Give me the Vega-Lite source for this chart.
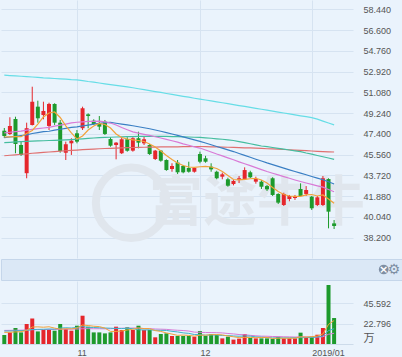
{
  "$schema": "https://vega.github.io/schema/vega-lite/v6.json",
  "background": "#eaf3fc",
  "padding": 0,
  "spacing": 0,
  "config": {
    "view": {"stroke": null},
    "axis": {"labelFont": "Liberation Sans", "labelFontSize": 9, "labelColor": "#555555", "gridColor": "#d6e3f1", "gridWidth": 1, "domain": false, "ticks": false, "labelOverlap": false},
    "axisY": {"labelOverlap": false}
  },
  "datasets": {
    "k": [
      {"i":0,"o":47.69,"h":47.93,"l":47.04,"c":47.22,"v":10.1,"m5":47.13,"m10":47.50,"m20":47.08,"m60":46.64,"m120":45.47,"m250":52.61,"vm5":13.0,"vm10":14.5,"vm20":15.2},
      {"i":1,"o":47.40,"h":48.88,"l":47.31,"c":48.11,"v":13.0,"m5":47.15,"m10":47.55,"m20":47.13,"m60":46.66,"m120":45.51,"m250":52.58,"vm5":13.2,"vm10":14.6,"vm20":15.3},
      {"i":2,"o":48.73,"h":48.93,"l":45.69,"c":46.51,"v":17.9,"m5":47.16,"m10":47.61,"m20":47.19,"m60":46.69,"m120":45.55,"m250":52.55,"vm5":13.5,"vm10":14.8,"vm20":15.4},
      {"i":3,"o":46.42,"h":46.72,"l":45.45,"c":45.54,"v":13.0,"m5":47.16,"m10":47.66,"m20":47.26,"m60":46.72,"m120":45.60,"m250":52.52,"vm5":13.8,"vm10":15.0,"vm20":15.5},
      {"i":4,"o":43.92,"h":48.40,"l":43.47,"c":47.91,"v":22.4,"m5":47.44,"m10":47.74,"m20":47.32,"m60":46.74,"m120":45.64,"m250":52.48,"vm5":15.3,"vm10":15.3,"vm20":15.7},
      {"i":5,"o":48.20,"h":51.59,"l":48.15,"c":50.26,"v":28.7,"m5":47.71,"m10":47.81,"m20":47.44,"m60":46.77,"m120":45.69,"m250":52.45,"vm5":19.0,"vm10":16.2,"vm20":16.0},
      {"i":6,"o":49.82,"h":50.35,"l":48.40,"c":48.79,"v":14.1,"m5":48.28,"m10":47.87,"m20":47.52,"m60":46.79,"m120":45.73,"m250":52.42,"vm5":19.2,"vm10":16.4,"vm20":16.1},
      {"i":7,"o":49.08,"h":50.26,"l":48.70,"c":49.44,"v":15.7,"m5":48.91,"m10":47.93,"m20":47.60,"m60":46.80,"m120":45.77,"m250":52.38,"vm5":18.8,"vm10":16.5,"vm20":16.2},
      {"i":8,"o":48.11,"h":50.17,"l":47.75,"c":50.06,"v":15.7,"m5":49.26,"m10":47.99,"m20":47.64,"m60":46.82,"m120":45.80,"m250":52.36,"vm5":19.3,"vm10":16.8,"vm20":16.3},
      {"i":9,"o":50.06,"h":50.12,"l":48.20,"c":48.40,"v":14.9,"m5":49.35,"m10":48.09,"m20":47.74,"m60":46.84,"m120":45.84,"m250":52.32,"vm5":17.8,"vm10":16.6,"vm20":16.4},
      {"i":10,"o":48.40,"h":48.64,"l":45.74,"c":45.89,"v":22.4,"m5":48.86,"m10":48.19,"m20":47.82,"m60":46.85,"m120":45.87,"m250":52.29,"vm5":16.6,"vm10":17.8,"vm20":16.6},
      {"i":11,"o":45.74,"h":46.72,"l":45.09,"c":46.48,"v":16.8,"m5":48.11,"m10":48.28,"m20":47.90,"m60":46.87,"m120":45.91,"m250":52.26,"vm5":17.1,"vm10":18.2,"vm20":16.7},
      {"i":12,"o":46.57,"h":47.02,"l":45.54,"c":46.80,"v":14.9,"m5":47.49,"m10":48.38,"m20":47.98,"m60":46.90,"m120":45.94,"m250":52.22,"vm5":16.9,"vm10":17.9,"vm20":16.7},
      {"i":13,"o":47.46,"h":47.75,"l":46.57,"c":46.72,"v":20.5,"m5":46.95,"m10":48.44,"m20":48.03,"m60":46.94,"m120":45.97,"m250":52.20,"vm5":17.9,"vm10":18.6,"vm20":16.8},
      {"i":14,"o":47.91,"h":49.82,"l":47.75,"c":49.68,"v":31.7,"m5":47.22,"m10":48.48,"m20":48.11,"m60":46.97,"m120":46.01,"m250":52.13,"vm5":21.3,"vm10":19.5,"vm20":17.1},
      {"i":15,"o":49.14,"h":49.23,"l":47.91,"c":48.99,"v":19.4,"m5":47.75,"m10":48.51,"m20":48.19,"m60":47.01,"m120":46.03,"m250":52.05,"vm5":20.7,"vm10":18.6,"vm20":17.2},
      {"i":16,"o":48.58,"h":48.70,"l":48.20,"c":48.28,"v":13.0,"m5":48.11,"m10":48.52,"m20":48.27,"m60":47.04,"m120":46.06,"m250":51.99,"vm5":19.9,"vm10":18.5,"vm20":17.1},
      {"i":17,"o":48.35,"h":48.99,"l":47.75,"c":48.05,"v":13.0,"m5":48.33,"m10":48.54,"m20":48.35,"m60":47.08,"m120":46.09,"m250":51.92,"vm5":19.5,"vm10":18.2,"vm20":17.1},
      {"i":18,"o":48.49,"h":48.64,"l":47.31,"c":47.40,"v":11.9,"m5":48.24,"m10":48.48,"m20":48.40,"m60":47.10,"m120":46.11,"m250":51.85,"vm5":17.8,"vm10":17.9,"vm20":17.0},
      {"i":19,"o":46.95,"h":47.11,"l":46.27,"c":46.36,"v":13.0,"m5":47.93,"m10":48.37,"m20":48.42,"m60":47.11,"m120":46.13,"m250":51.78,"vm5":14.1,"vm10":17.7,"vm20":17.1},
      {"i":20,"o":46.42,"h":46.68,"l":45.15,"c":46.63,"v":19.4,"m5":47.40,"m10":48.19,"m20":48.35,"m60":47.13,"m120":46.15,"m250":51.71,"vm5":14.1,"vm10":17.4,"vm20":17.6},
      {"i":21,"o":45.69,"h":47.11,"l":45.62,"c":46.93,"v":15.7,"m5":47.09,"m10":47.97,"m20":48.28,"m60":47.14,"m120":46.17,"m250":51.64,"vm5":14.6,"vm10":17.3,"vm20":17.7},
      {"i":22,"o":46.93,"h":47.11,"l":45.83,"c":45.92,"v":18.7,"m5":46.95,"m10":47.77,"m20":48.21,"m60":47.16,"m120":46.18,"m250":51.57,"vm5":15.7,"vm10":17.6,"vm20":17.7},
      {"i":23,"o":45.92,"h":47.11,"l":45.83,"c":47.02,"v":15.7,"m5":46.88,"m10":47.58,"m20":48.13,"m60":47.17,"m120":46.20,"m250":51.50,"vm5":16.5,"vm10":17.2,"vm20":17.9},
      {"i":24,"o":47.02,"h":47.60,"l":46.13,"c":46.63,"v":20.5,"m5":46.82,"m10":47.48,"m20":48.04,"m60":47.18,"m120":46.21,"m250":51.41,"vm5":18.0,"vm10":16.0,"vm20":17.8},
      {"i":25,"o":46.57,"h":47.16,"l":46.42,"c":46.93,"v":15.7,"m5":46.73,"m10":47.37,"m20":47.95,"m60":47.18,"m120":46.22,"m250":51.33,"vm5":17.3,"vm10":15.7,"vm20":17.1},
      {"i":26,"o":46.42,"h":46.51,"l":45.54,"c":45.62,"v":15.7,"m5":46.51,"m10":47.27,"m20":47.86,"m60":47.18,"m120":46.23,"m250":51.25,"vm5":17.3,"vm10":15.9,"vm20":17.2},
      {"i":27,"o":45.18,"h":45.98,"l":45.09,"c":45.92,"v":7.5,"m5":46.25,"m10":47.15,"m20":47.75,"m60":47.18,"m120":46.24,"m250":51.16,"vm5":15.0,"vm10":15.4,"vm20":16.8},
      {"i":28,"o":45.92,"h":45.98,"l":44.94,"c":45.03,"v":11.2,"m5":45.89,"m10":47.04,"m20":47.64,"m60":47.18,"m120":46.25,"m250":51.08,"vm5":14.1,"vm10":15.3,"vm20":16.6},
      {"i":29,"o":45.09,"h":45.15,"l":44.14,"c":44.20,"v":11.9,"m5":45.49,"m10":46.92,"m20":47.52,"m60":47.18,"m120":46.25,"m250":50.99,"vm5":12.4,"vm10":15.2,"vm20":16.4},
      {"i":30,"o":44.29,"h":44.80,"l":44.05,"c":44.56,"v":9.0,"m5":45.14,"m10":46.80,"m20":47.40,"m60":47.17,"m120":46.25,"m250":50.91,"vm5":11.1,"vm10":14.2,"vm20":15.8},
      {"i":31,"o":44.86,"h":45.09,"l":43.85,"c":44.00,"v":9.0,"m5":44.83,"m10":46.67,"m20":47.27,"m60":47.16,"m120":46.26,"m250":50.82,"vm5":9.7,"vm10":13.5,"vm20":15.4},
      {"i":32,"o":44.56,"h":44.65,"l":43.91,"c":44.00,"v":9.0,"m5":44.60,"m10":46.52,"m20":47.14,"m60":47.15,"m120":46.27,"m250":50.74,"vm5":10.0,"vm10":12.5,"vm20":15.1},
      {"i":33,"o":44.38,"h":44.94,"l":43.97,"c":44.05,"v":9.0,"m5":44.47,"m10":46.40,"m20":47.01,"m60":47.13,"m120":46.28,"m250":50.66,"vm5":9.6,"vm10":11.9,"vm20":14.5},
      {"i":34,"o":44.05,"h":44.47,"l":43.97,"c":44.38,"v":8.2,"m5":44.44,"m10":46.26,"m20":46.87,"m60":47.11,"m120":46.29,"m250":50.57,"vm5":8.8,"vm10":10.6,"vm20":13.3},
      {"i":35,"o":45.62,"h":45.83,"l":44.80,"c":44.94,"v":14.5,"m5":44.49,"m10":46.15,"m20":46.74,"m60":47.10,"m120":46.29,"m250":50.49,"vm5":9.9,"vm10":10.5,"vm20":13.1},
      {"i":36,"o":45.24,"h":45.46,"l":44.85,"c":44.94,"v":9.0,"m5":44.52,"m10":45.98,"m20":46.60,"m60":47.06,"m120":46.28,"m250":50.41,"vm5":9.9,"vm10":9.8,"vm20":12.9},
      {"i":37,"o":44.50,"h":44.80,"l":44.05,"c":44.26,"v":11.2,"m5":44.47,"m10":45.80,"m20":46.44,"m60":47.02,"m120":46.26,"m250":50.33,"vm5":10.4,"vm10":10.2,"vm20":12.8},
      {"i":38,"o":44.05,"h":44.14,"l":43.38,"c":43.47,"v":10.1,"m5":44.34,"m10":45.62,"m20":46.29,"m60":46.97,"m120":46.25,"m250":50.25,"vm5":10.6,"vm10":10.1,"vm20":12.7},
      {"i":39,"o":43.61,"h":43.97,"l":43.38,"c":43.82,"v":6.3,"m5":44.07,"m10":45.46,"m20":46.14,"m60":46.93,"m120":46.24,"m250":50.17,"vm5":10.2,"vm10":9.5,"vm20":12.4},
      {"i":40,"o":43.38,"h":43.52,"l":42.72,"c":42.81,"v":8.2,"m5":43.72,"m10":45.28,"m20":45.99,"m60":46.88,"m120":46.22,"m250":50.09,"vm5":9.0,"vm10":9.5,"vm20":11.8},
      {"i":41,"o":42.96,"h":43.31,"l":42.84,"c":43.23,"v":4.9,"m5":43.36,"m10":45.11,"m20":45.84,"m60":46.82,"m120":46.21,"m250":50.00,"vm5":8.1,"vm10":9.0,"vm20":11.3},
      {"i":42,"o":43.34,"h":43.67,"l":43.05,"c":43.47,"v":6.0,"m5":43.32,"m10":44.93,"m20":45.67,"m60":46.72,"m120":46.19,"m250":49.92,"vm5":7.1,"vm10":8.7,"vm20":10.6},
      {"i":43,"o":43.38,"h":44.44,"l":43.31,"c":44.20,"v":11.2,"m5":43.38,"m10":44.76,"m20":45.50,"m60":46.63,"m120":46.17,"m250":49.84,"vm5":7.3,"vm10":9.0,"vm20":10.4},
      {"i":44,"o":44.00,"h":44.14,"l":43.49,"c":43.56,"v":6.7,"m5":43.43,"m10":44.59,"m20":45.33,"m60":46.53,"m120":46.16,"m250":49.76,"vm5":7.4,"vm10":8.8,"vm20":9.7},
      {"i":45,"o":43.17,"h":43.61,"l":42.99,"c":43.40,"v":6.3,"m5":43.47,"m10":44.42,"m20":45.16,"m60":46.43,"m120":46.14,"m250":49.67,"vm5":7.0,"vm10":8.0,"vm20":9.2},
      {"i":46,"o":43.17,"h":43.31,"l":42.52,"c":42.72,"v":6.3,"m5":43.32,"m10":44.24,"m20":45.00,"m60":46.33,"m120":46.12,"m250":49.59,"vm5":7.3,"vm10":7.7,"vm20":8.8},
      {"i":47,"o":42.78,"h":42.87,"l":42.34,"c":42.49,"v":6.3,"m5":43.05,"m10":44.07,"m20":44.83,"m60":46.27,"m120":46.09,"m250":49.51,"vm5":7.4,"vm10":7.2,"vm20":8.7},
      {"i":48,"o":43.47,"h":43.56,"l":41.90,"c":41.99,"v":5.6,"m5":42.65,"m10":43.92,"m20":44.68,"m60":46.20,"m120":46.07,"m250":49.42,"vm5":6.2,"vm10":6.8,"vm20":8.4},
      {"i":49,"o":42.08,"h":42.14,"l":41.19,"c":41.31,"v":8.2,"m5":42.30,"m10":43.77,"m20":44.52,"m60":46.12,"m120":46.05,"m250":49.34,"vm5":6.5,"vm10":7.0,"vm20":8.3},
      {"i":50,"o":41.10,"h":42.19,"l":41.01,"c":42.08,"v":6.3,"m5":42.03,"m10":43.62,"m20":44.37,"m60":46.05,"m120":46.02,"m250":49.26,"vm5":6.5,"vm10":6.8,"vm20":8.1},
      {"i":51,"o":41.63,"h":41.99,"l":41.43,"c":41.90,"v":6.3,"m5":41.90,"m10":43.47,"m20":44.22,"m60":45.98,"m120":46.00,"m250":49.18,"vm5":6.5,"vm10":6.9,"vm20":8.0},
      {"i":52,"o":41.72,"h":41.99,"l":41.55,"c":41.85,"v":6.3,"m5":41.86,"m10":43.32,"m20":44.07,"m60":45.90,"m120":45.97,"m250":49.09,"vm5":6.5,"vm10":7.0,"vm20":7.8},
      {"i":53,"o":42.52,"h":43.02,"l":41.84,"c":41.90,"v":12.7,"m5":41.86,"m10":43.18,"m20":43.93,"m60":45.83,"m120":45.94,"m250":49.01,"vm5":8.0,"vm10":7.1,"vm20":8.0},
      {"i":54,"o":42.08,"h":42.78,"l":41.90,"c":42.43,"v":7.5,"m5":41.99,"m10":43.05,"m20":43.78,"m60":45.71,"m120":45.92,"m250":48.93,"vm5":7.8,"vm10":7.2,"vm20":8.0},
      {"i":55,"o":41.84,"h":41.90,"l":40.66,"c":40.81,"v":8.2,"m5":42.03,"m10":42.93,"m20":43.63,"m60":45.61,"m120":45.89,"m250":48.85,"vm5":8.2,"vm10":7.4,"vm20":7.7},
      {"i":56,"o":41.10,"h":41.90,"l":41.01,"c":41.78,"v":10.4,"m5":41.90,"m10":42.80,"m20":43.49,"m60":45.49,"m120":45.86,"m250":48.71,"vm5":9.0,"vm10":7.8,"vm20":7.8},
      {"i":57,"o":41.10,"h":43.67,"l":41.01,"c":43.47,"v":17.9,"m5":41.99,"m10":42.68,"m20":43.34,"m60":45.38,"m120":45.84,"m250":48.54,"vm5":11.3,"vm10":8.9,"vm20":8.1},
      {"i":58,"o":43.40,"h":43.47,"l":39.03,"c":40.51,"v":66.1,"m5":41.63,"m10":42.48,"m20":43.16,"m60":45.27,"m120":45.82,"m250":48.37,"vm5":22.0,"vm10":15.0,"vm20":10.9},
      {"i":59,"o":39.47,"h":39.77,"l":38.97,"c":39.24,"v":29.1,"m5":41.25,"m10":42.28,"m20":42.96,"m60":45.15,"m120":45.80,"m250":48.20,"vm5":26.3,"vm10":17.1,"vm20":12.0}
    ]
  },
  "vconcat": [
    {
      "width": 352,
      "height": 258,
      "data": {"name": "k"},
      "encoding": {
        "x": {"field": "i", "type": "quantitative", "title": null, "scale": {"domain": [-0.59, 62.38], "nice": false, "zero": false, "padding": 0},
              "axis": {"orient": "top", "values": [13, 35, 55], "labels": false, "grid": true, "minExtent": 0, "maxExtent": 0}},
        "y": {"type": "quantitative", "title": null, "scale": {"domain": [36.4, 59.28], "nice": false, "zero": false},
              "axis": {"orient": "right", "values": [38.2, 40.04, 41.88, 43.72, 45.56, 47.4, 49.24, 51.08, 52.92, 54.76, 56.6, 58.44], "format": ".3f", "labelPadding": 10, "labelOverlap": false, "grid": true}}
      },
      "layer": [
        {
          "data": {"values": [{"i": 22.7, "p": 41.3}]},
          "mark": {"type": "point", "shape": "circle", "filled": false, "size": 5000, "strokeWidth": 8, "color": "#e0e6ed", "opacity": 1},
          "encoding": {"y": {"field": "p"}}
        },
        {
          "data": {"values": [{"i": 45.2, "p": 41.1, "t": "富途牛牛"}]},
          "mark": {"type": "text", "font": "Noto Sans CJK SC", "fontSize": 54, "fontWeight": "bold", "color": "#e0e6ed", "baseline": "middle", "align": "center"},
          "encoding": {"y": {"field": "p"}, "text": {"field": "t"}}
        },
        {
          "mark": {"type": "rule", "strokeWidth": 1},
          "encoding": {
            "y": {"field": "l"},
            "y2": {"field": "h"},
            "color": {"condition": {"test": "datum.c >= datum.o", "value": "#e5262c"}, "value": "#1d9a2c"}
          }
        },
        {
          "mark": {"type": "bar", "width": 4},
          "encoding": {
            "y": {"field": "o"},
            "y2": {"field": "c"},
            "color": {"condition": {"test": "datum.c >= datum.o", "value": "#e5262c"}, "value": "#1d9a2c"}
          }
        },
        {"mark": {"type": "line", "color": "#66dde6", "strokeWidth": 1.2}, "encoding": {"y": {"field": "m250"}}},
        {"mark": {"type": "line", "color": "#e07070", "strokeWidth": 1.2}, "encoding": {"y": {"field": "m120"}}},
        {"mark": {"type": "line", "color": "#45bd9f", "strokeWidth": 1.2}, "encoding": {"y": {"field": "m60"}}},
        {"mark": {"type": "line", "color": "#3a7fc4", "strokeWidth": 1.2}, "encoding": {"y": {"field": "m20"}}},
        {"mark": {"type": "line", "color": "#d97ad6", "strokeWidth": 1.2}, "encoding": {"y": {"field": "m10"}}},
        {"mark": {"type": "line", "color": "#f2a23a", "strokeWidth": 1.2}, "encoding": {"y": {"field": "m5"}}}
      ]
    },
    {
      "width": 402,
      "height": 21,
      "view": {"fill": "#dbe8f6", "stroke": "#c5d6ea"},
      "layer": [
        {
          "data": {"values": [{"p": 0.952}]},
          "mark": {"type": "point", "shape": "circle", "filled": true, "size": 95, "color": "#7f8fa3", "opacity": 1},
          "encoding": {
            "x": {"field": "p", "type": "quantitative", "scale": {"domain": [0, 1]}, "axis": null},
            "y": {"datum": 0.5, "type": "quantitative", "scale": {"domain": [0, 1]}, "axis": null}
          }
        },
        {
          "data": {"values": [{"p": 0.952, "t": "×"}]},
          "mark": {"type": "text", "color": "#ffffff", "fontSize": 11, "fontWeight": "bold", "font": "DejaVu Sans", "baseline": "middle"},
          "encoding": {
            "x": {"field": "p", "type": "quantitative", "axis": null},
            "y": {"datum": 0.5, "type": "quantitative", "axis": null},
            "text": {"field": "t"}
          }
        },
        {
          "data": {"values": [{"p": 0.978, "t": "⚙"}]},
          "mark": {"type": "text", "color": "#7f8fa3", "fontSize": 14, "font": "DejaVu Sans", "baseline": "middle"},
          "encoding": {
            "x": {"field": "p", "type": "quantitative", "axis": null},
            "y": {"datum": 0.5, "type": "quantitative", "axis": null},
            "text": {"field": "t"}
          }
        }
      ]
    },
    {
      "width": 352,
      "height": 63,
      "data": {"name": "k"},
      "encoding": {
        "x": {"field": "i", "type": "quantitative", "title": null, "scale": {"domain": [-0.59, 62.38], "nice": false, "zero": false, "padding": 0},
              "axis": {"orient": "bottom", "values": [13, 35, 55], "labelExpr": "datum.value == 13 ? '11' : datum.value == 35 ? '12' : '2019/01'", "labelAlign": "left", "labelPadding": 4, "labelFlush": false, "labelOverlap": false, "grid": true, "domain": true, "domainColor": "#cddbea"}},
        "y": {"type": "quantitative", "scale": {"domain": [0, 70.6], "nice": false},
              "axis": {"orient": "right", "values": [22.796, 45.592], "format": ".3f", "labelPadding": 10, "labelOverlap": false, "grid": true,
                       "title": "万", "titleAngle": 0, "titleAlign": "left", "titleBaseline": "middle", "titleX": 10, "titleY": 57,
                       "titleFont": "Noto Sans CJK SC", "titleFontSize": 11, "titleFontWeight": "normal", "titleColor": "#555555"}}
      },
      "layer": [
        {
          "mark": {"type": "bar", "width": 4},
          "encoding": {
            "y": {"field": "v"},
            "color": {"condition": {"test": "datum.c >= datum.o", "value": "#e5262c"}, "value": "#1d9a2c"}
          }
        },
        {"mark": {"type": "line", "color": "#d97ad6", "strokeWidth": 1}, "encoding": {"y": {"field": "vm20"}}},
        {"mark": {"type": "line", "color": "#3fb3c9", "strokeWidth": 1}, "encoding": {"y": {"field": "vm10"}}},
        {"mark": {"type": "line", "color": "#f2a23a", "strokeWidth": 1}, "encoding": {"y": {"field": "vm5"}}}
      ]
    }
  ]
}
